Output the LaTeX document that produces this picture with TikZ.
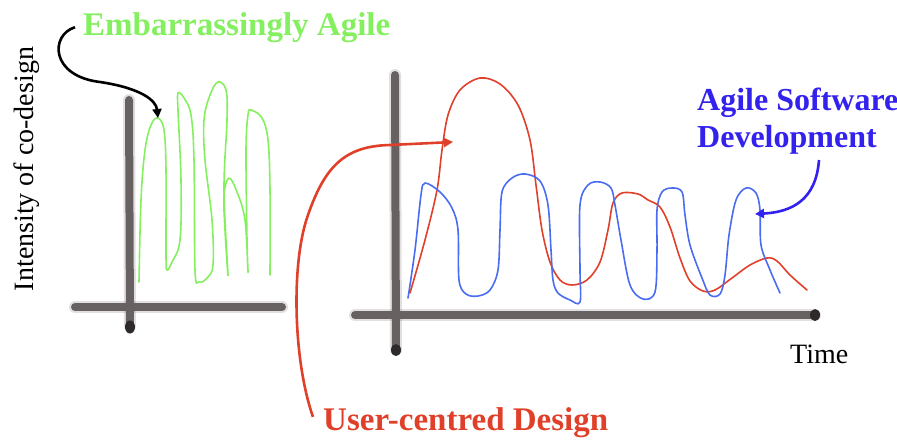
\documentclass[tikz,border=0pt]{standalone}
\usepackage{fontspec}
\setmainfont{Liberation Serif}
\usetikzlibrary{
  arrows.meta,
  calc
}
\definecolor{cdgreen}{HTML}{84F060}
\definecolor{cdblue}{HTML}{3322EE}
\definecolor{cdbluepen}{HTML}{4A6CF0}
\definecolor{cdred}{HTML}{E0402A}
\definecolor{cdaxis}{HTML}{676162}
\definecolor{cdaxisend}{HTML}{2E2A2B}

\begin{document}
\begin{tikzpicture}[
      x=1pt, y=-1pt,
      axisbar/.style={line width=8pt, cdaxis, line cap=round},
      axishaze/.style={line width=12pt, cdaxis, opacity=0.2, line cap=round},
      axisend/.style={fill=cdaxisend, draw=none},
      pen/.style={line width=1.6pt, line join=round, line cap=round},
      pointer/.style={line width=2.6pt, -{Triangle[length=9pt,width=9pt]}},
      title/.style={inner sep=0pt, anchor=base west, font=\fontsize{33}{37}\selectfont\bfseries},
      axislabel/.style={inner sep=0pt, font=\fontsize{28}{32}\selectfont}
    ]
      \useasboundingbox (0,0) rectangle (897,440);

      % left axes
      \draw[axishaze] (129,100) -- (130,326);
      \draw[axishaze] (75,307) -- (282,307);
      \draw[axisbar] (129,100) -- (130,326);
      \draw[axisbar] (75,307) -- (282,307);
      \fill[axisend] (130,327) ellipse (5pt and 6.5pt);

      % right axes
      \draw[axishaze] (395,75) -- (396,350);
      \draw[axishaze] (355,315) -- (815,315);
      \draw[axisbar] (395,75) -- (396,350);
      \draw[axisbar] (355,315) -- (815,315);
      \fill[axisend] (396,350) ellipse (5pt and 6pt);
      \fill[axisend] (815,315) ellipse (5pt and 6pt);

      % embarrassingly agile
      \draw[pen, cdgreen] plot[smooth, tension=0.6] coordinates {
        (139,282) (141,200) (145,150) (151,125) (158,118) (164,130)
        (166,170) (166,255) (167,270) (172,262) (180,240) (181,180)
        (178,110) (178,93) (184,98) (191,115) (194,160) (195,270)
        (199,282) (207,278) (213,265) (212,220) (205,160) (204,120)
        (210,95) (218,82) (226,90) (227,120) (224,190) (228,275)
        (225,230) (224,195) (229,178) (237,192) (245,220) (248,272)
        (247,240) (246,150) (248,115) (251,110) (262,118) (268,140)
        (270,190) (270,275)};

      % user-centred design
      \draw[pen, cdred] plot[smooth, tension=0.55] coordinates {
        (410,293) (425,240) (437,190) (442,150) (448,115) (460,90)
        (480,78) (500,84) (518,105) (530,140) (536,185) (542,230)
        (550,262) (560,280) (572,285) (587,280) (600,262) (608,230)
        (613,203) (622,193) (638,194) (648,200) (660,207) (670,227)
        (680,258) (690,281) (703,291) (715,290) (732,278) (750,265)
        (767,258) (777,261) (790,275) (807,290)};

      % agile software development
      \draw[pen, cdbluepen] plot[smooth, tension=0.55] coordinates {
        (408,298) (415,250) (421,195) (425,183) (440,192) (452,208)
        (458,230) (459,280) (466,294) (478,296) (490,290) (498,270)
        (500,230) (502,192) (512,178) (525,174) (540,181) (548,205)
        (551,250) (553,280) (558,293) (570,300) (580,302) (580,270)
        (580,205) (588,185) (600,182) (611,188) (615,205) (621,240)
        (630,285) (643,299) (655,292) (657,250) (657,210) (662,192)
        (672,188) (682,192) (685,215) (690,245) (702,278) (710,295)
        (720,294) (725,275) (729,235) (736,200) (746,188) (756,193)
        (760,210) (761,245) (770,270) (780,293)};

      % labels
      \node[title, cdgreen] (embar) at (83,35) {Embarrassingly Agile};
      \node[title, cdblue, align=left, font=\fontsize{32}{37}\selectfont\bfseries] (asd) at (697,147) {Agile Software\\Development};
      \node[title, cdred] (ucd) at (323,430) {User-centred Design};
      \node[axislabel, rotate=90, anchor=base] (intensity) at (33,169) {Intensity of co-design};
      \node[axislabel, anchor=base west] (time) at (790,363) {Time};

      \coordinate (greenpeak) at (158,118);
      \coordinate (redpeak) at (453,142);
      \coordinate (bluepeak) at (755,214);

      \draw[pointer, black] ([xshift=-8pt]embar.west)
        .. controls (50,35) and (50,76) .. (100,82)
        .. controls (140,88) and (156,100) .. (greenpeak);
      \draw[pointer, cdred] ([xshift=-10pt,yshift=-10pt]ucd.north west)
        .. controls (293,360) and (291,262) .. (308,215)
        .. controls (325,166) and (345,146) .. (390,145) -- (redpeak);
      \draw[pointer, cdblue] ([xshift=122pt,yshift=-6pt]asd.south west)
        .. controls (816,200) and (792,212) .. (bluepeak);
    \end{tikzpicture}
\end{document}
